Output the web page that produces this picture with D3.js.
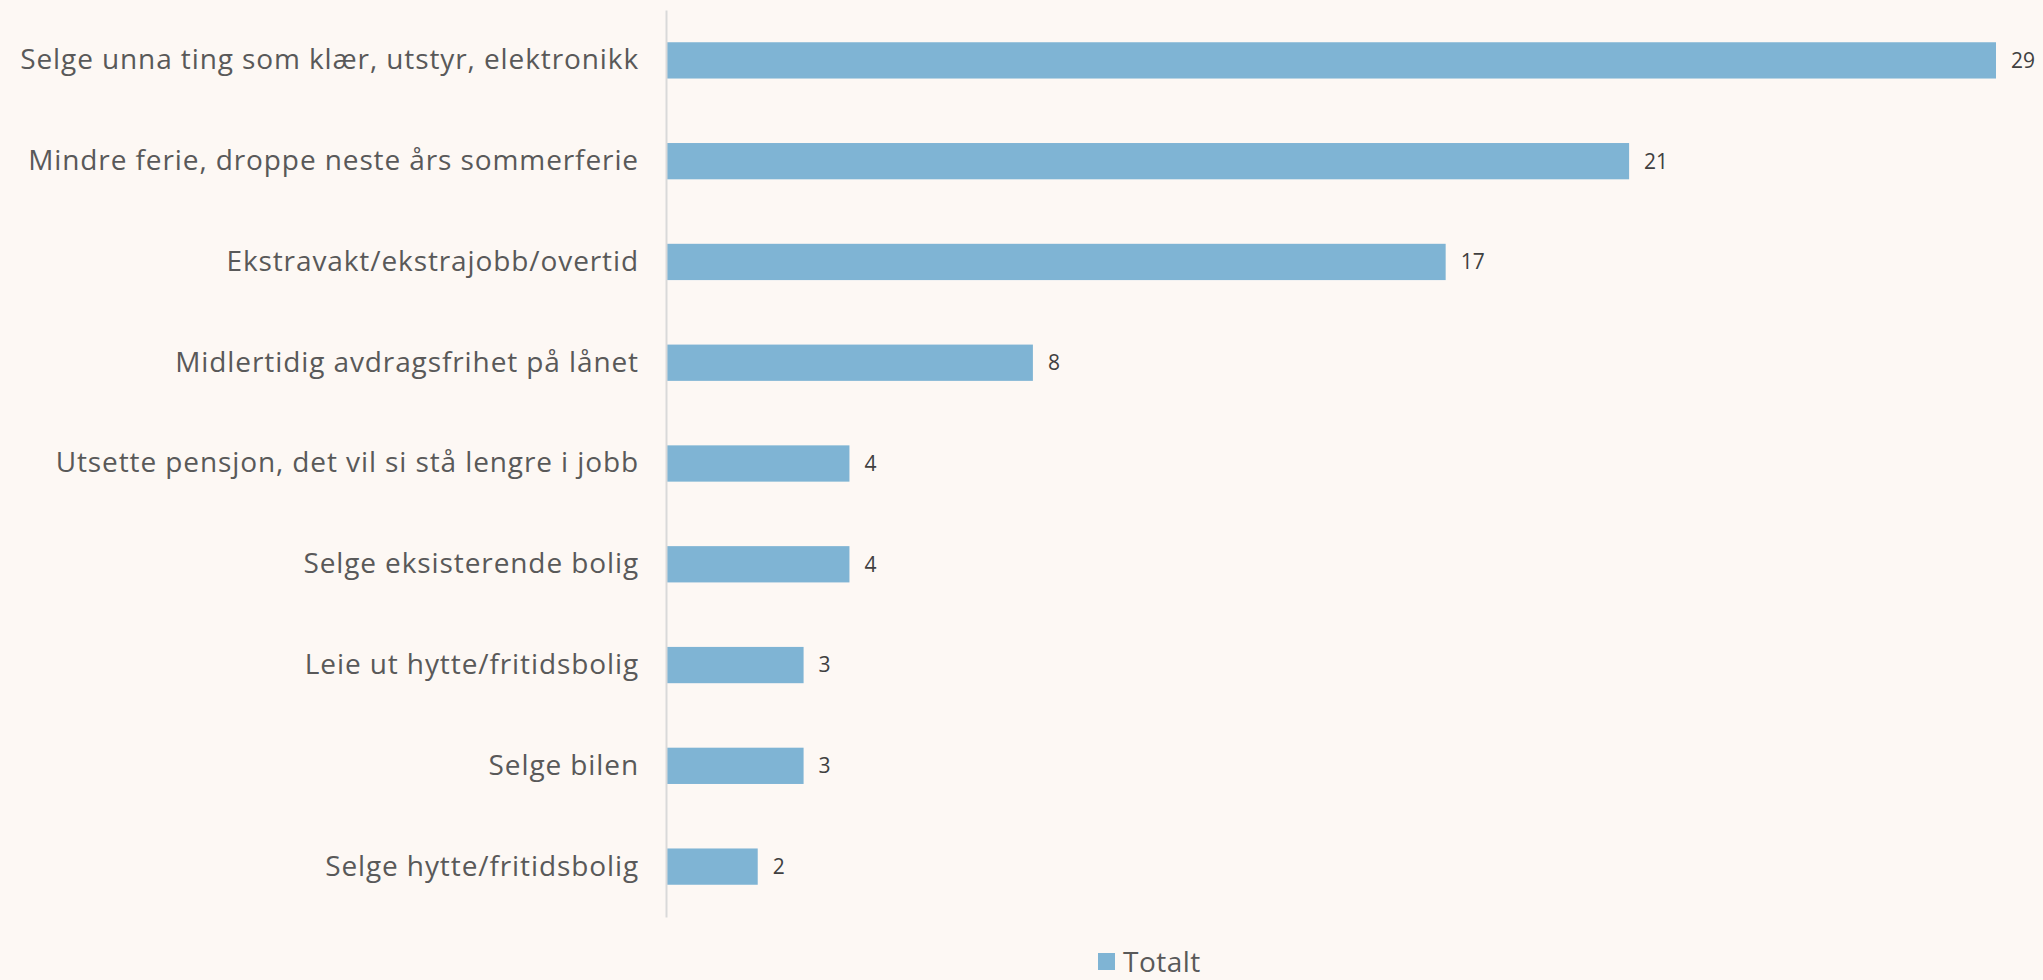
<!DOCTYPE html>
<html>
<head>
<meta charset="utf-8">
<script src="https://cdn.jsdelivr.net/npm/d3@7"></script>
<style>
  html, body { margin: 0; padding: 0; background: #fdf8f4; }
  svg { display: block; }
</style>
</head>
<body>
<svg width="2043" height="980"></svg>
<script>
var categories = [
  "Selge unna ting som klær, utstyr, elektronikk",
  "Mindre ferie, droppe neste års sommerferie",
  "Ekstravakt/ekstrajobb/overtid",
  "Midlertidig avdragsfrihet på lånet",
  "Utsette pensjon, det vil si stå lengre i jobb",
  "Selge eksisterende bolig",
  "Leie ut hytte/fritidsbolig",
  "Selge bilen",
  "Selge hytte/fritidsbolig"
];
var values = [29, 21, 17, 8, 4, 4, 3, 3, 2];
var seriesName = "Totalt";

var svg = d3.select("svg"),
  width = +svg.attr("width"),
  height = +svg.attr("height");

var fontFamily = "'Open Sans', sans-serif";
var barColor = "#7fb4d4";

var x = d3.scaleLinear()
  .domain([0, 29])
  .range([666, 1996]);

var y = d3.scaleBand()
  .domain(categories)
  .range([10, 917])
  .paddingInner(0.64)
  .paddingOuter(0.32);

// bars
svg.append("g")
  .selectAll("rect")
  .data(values)
  .enter().append("rect")
  .attr("x", x(0))
  .attr("y", function(d, i) { return y(categories[i]); })
  .attr("width", function(d) { return x(d) - x(0); })
  .attr("height", y.bandwidth())
  .style("fill", barColor);

// value labels
svg.append("g")
  .selectAll("text")
  .data(values)
  .enter().append("text")
  .attr("x", function(d) { return x(d) + 15; })
  .attr("y", function(d, i) { return y(categories[i]) + y.bandwidth() / 2; })
  .attr("dy", "0.35em")
  .style("font-family", fontFamily)
  .style("font-size", "21px")
  .style("fill", "#404040")
  .text(function(d) { return d; });

// category axis
var yAxis = svg.append("g")
  .attr("transform", "translate(" + x(0) + ",0)")
  .call(d3.axisLeft(y).tickSize(0).tickPadding(27));

yAxis.select(".domain")
  .attr("stroke", "#d9d9d9")
  .attr("stroke-width", 2);

yAxis.selectAll("text")
  .style("font-family", fontFamily)
  .style("font-size", "28px")
  .style("letter-spacing", "0.9px")
  .style("fill", "#595959");

// legend
var legend = svg.append("g")
  .attr("transform", "translate(1098,953)");

legend.append("rect")
  .attr("width", 17)
  .attr("height", 17)
  .style("fill", barColor);

legend.append("text")
  .attr("x", 25)
  .attr("y", 9)
  .attr("dy", "0.35em")
  .style("font-family", fontFamily)
  .style("font-size", "28px")
  .style("letter-spacing", "0.5px")
  .style("fill", "#595959")
  .text(seriesName);
</script>
</body>
</html>
